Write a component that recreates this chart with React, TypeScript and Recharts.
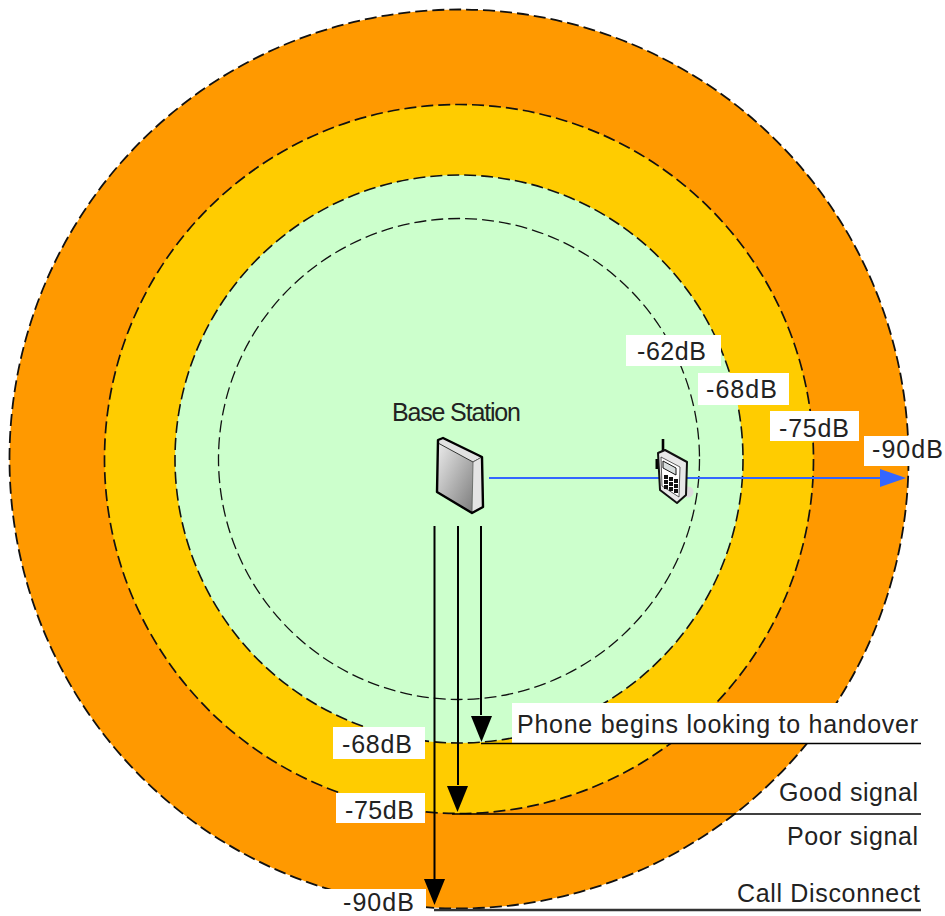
import React from "react";
import { ComposedChart, XAxis, YAxis, Scatter, Line, ReferenceArea } from "recharts";

const FONT = "'Liberation Sans', Arial, sans-serif";

// Signal zones (outermost first), drawn in the diagram's own distance units
const centre = { x: 459, y: 459 };
const zoneRadius = [449.5, 354.5, 284, 240.5];
const zoneFill = ["#FF9900", "#FFCC00", "#CCFFCC", "none"];
const zoneStrokeWidth = [1.8, 1.7, 1.6, 1.3];

// White label plates: x1, x2, y1, y2
const plates = [
  [626, 721, 335, 366],
  [698, 789, 373, 405],
  [770, 859, 411, 441],
  [864, 945, 436, 466],
  [333, 425, 727, 759],
  [336, 425, 793, 823],
  [300, 426, 889, 916],
  [512, 925, 703, 743],
];

// Level lines
const levelLines = [
  { from: 481, to: 921, y: 743.5 },
  { from: 452, to: 921, y: 814 },
  { from: 434, to: 921, y: 910 },
];
const dropLines = [
  { x: 434.5, top: 526, bottom: 880 },
  { x: 458, top: 526, bottom: 785 },
  { x: 481, top: 526, bottom: 715 },
];
const arrowTips = [
  { x: 434.5, y: 905 },
  { x: 457.5, y: 812 },
  { x: 481.5, y: 742 },
];
const signalPath = [
  { x: 489, y: 478 },
  { x: 884, y: 478 },
];
const signalTip = [{ x: 906, y: 478 }];
const stationPos = [{ x: 459, y: 476 }];
const phonePos = [{ x: 672, y: 471 }];

// Text
const labelText = [
  "Base Station", "-62dB", "-68dB", "-75dB", "-90dB", "-68dB", "-75dB", "-90dB",
  "Phone begins looking to handover", "Good signal", "Poor signal", "Call Disconnect",
];
const labelX = [392, 637, 706, 779, 872, 342, 345, 343, 517, 779, 787, 737];
const labelY = [421, 360, 398, 437, 458, 753, 819, 911, 733, 801, 845, 902];
const labelSpan = [129, 69, 71, 70, 71, 70, 69, 71, 401, 139, 131, 183];

const zones = zoneRadius.map((r, i) => ({ ...centre, r, fill: zoneFill[i], sw: zoneStrokeWidth[i] }));
const labels = labelText.map((t, i) => ({ x: labelX[i], y: labelY[i], t, span: labelSpan[i] }));

const ZoneShape = (p: any) => (
  <circle
    cx={p.cx}
    cy={p.cy}
    r={p.payload.r}
    fill={p.payload.fill}
    stroke="#111"
    strokeWidth={p.payload.sw}
    strokeDasharray="12 5"
  />
);

const TextShape = (p: any) => (
  <text
    x={p.cx}
    y={p.cy}
    fontFamily={FONT}
    fontSize={25}
    fill="#222"
    textLength={p.payload.span}
    lengthAdjust="spacing"
  >
    {p.payload.t}
  </text>
);

const DownArrow = (p: any) => (
  <path d={`M${p.cx - 10.5} ${p.cy - 26} L${p.cx + 10.5} ${p.cy - 26} L${p.cx} ${p.cy} Z`} fill="#000" />
);

const BlueArrow = (p: any) => (
  <path d={`M${p.cx - 26} ${p.cy - 9} L${p.cx} ${p.cy} L${p.cx - 26} ${p.cy + 9} Z`} fill="#3366FF" />
);

const Station = (p: any) => (
  <g transform={`translate(${p.cx} ${p.cy})`}>
    <defs>
      <linearGradient id="stationFace" x1="0" y1="0" x2="1" y2="1">
        <stop offset="0" stopColor="#ececec" />
        <stop offset="1" stopColor="#7c7c7c" />
      </linearGradient>
    </defs>
    <path d="M-21 -33 L14 -14 L13 37 L-22 16 Z" fill="url(#stationFace)" />
    <path d="M-21 -36 L-16 -38 L23 -19 L14 -14 L-21 -33 Z" fill="#e2e2e2" stroke="#333" strokeWidth={1} />
    <path d="M14 -14 L23 -19 L24 31 L13 37 Z" fill="#e4e4e4" stroke="#555" strokeWidth={0.8} />
    <path d="M-21 -36 L-16 -38 L23 -19 L24 31 L13 37 L-22 16 Z" fill="none" stroke="#000" strokeWidth={2.4} strokeLinejoin="round" />
  </g>
);

const keypad = [
  [-8, 5], [-3, 7], [2, 9],
  [-8, 10], [-3, 12], [2, 14],
  [-8, 15], [-3, 17], [2, 19],
];

const Phone = (p: any) => (
  <g transform={`translate(${p.cx} ${p.cy})`}>
    <circle cx={16} cy={21} r={5.5} fill="#dcdcdc" />
    <path d="M-9 -32 L-9 -18" stroke="#000" strokeWidth={2.6} />
    <path d="M-15 -12 L-15 -2" stroke="#000" strokeWidth={3} />
    <path d="M-14 -18 L-7 -21 L15 -9 L14 24 L5 32 L-12 19 Z" fill="#e8e8e8" stroke="#111" strokeWidth={2} strokeLinejoin="round" />
    <path d="M-11 -14 L8 -4 L7 26 L-10 15 Z" fill="#fff" stroke="#333" strokeWidth={0.8} />
    <path d="M-9 -10 L4 -3 L4 4 L-9 -3 Z" fill="#d8dede" stroke="#111" strokeWidth={1} />
    {keypad.map(([kx, ky], i) => (
      <rect key={i} x={kx} y={ky - 1} width={4} height={4} fill="#111" />
    ))}
  </g>
);

export default function App() {
  return (
    <div style={{ position: "absolute", left: 0, top: 0, width: 945, height: 916, background: "#fff" }}>
      <ComposedChart width={945} height={916} margin={{ top: 0, right: 0, bottom: 0, left: 0 }}>
        <XAxis type="number" dataKey="x" domain={[0, 945]} hide />
        <YAxis type="number" dataKey="y" domain={[0, 916]} reversed hide />
        {zones.map((z, i) => (
          <Scatter key={i} data={[z]} shape={ZoneShape} isAnimationActive={false} zIndex={10 + i} />
        ))}
        {plates.map(([x1, x2, y1, y2], i) => (
          <ReferenceArea key={i} x1={x1} x2={x2} y1={y1} y2={y2} fill="#fff" fillOpacity={1} stroke="none" zIndex={20} />
        ))}
        {levelLines.map((l, i) => (
          <Line
            key={i}
            data={[{ x: l.from, y: l.y }, { x: l.to, y: l.y }]}
            dataKey="y"
            stroke={i === 2 ? "#333" : "#000"}
            strokeWidth={i === 2 ? 2.4 : 1.7}
            dot={false}
            activeDot={false}
            isAnimationActive={false}
            zIndex={30}
          />
        ))}
        {dropLines.map((l, i) => (
          <Line
            key={i}
            data={[{ x: l.x, y: l.top }, { x: l.x, y: l.bottom }]}
            dataKey="y"
            stroke="#000"
            strokeWidth={2}
            dot={false}
            activeDot={false}
            isAnimationActive={false}
            zIndex={30}
          />
        ))}
        <Line
          data={signalPath}
          dataKey="y"
          stroke="#3366FF"
          strokeWidth={2.2}
          dot={false}
          activeDot={false}
          isAnimationActive={false}
          zIndex={31}
        />
        <Scatter data={arrowTips} shape={DownArrow} isAnimationActive={false} zIndex={40} />
        <Scatter data={signalTip} shape={BlueArrow} isAnimationActive={false} zIndex={40} />
        <Scatter data={stationPos} shape={Station} isAnimationActive={false} zIndex={40} />
        <Scatter data={phonePos} shape={Phone} isAnimationActive={false} zIndex={40} />
        <Scatter data={labels} shape={TextShape} isAnimationActive={false} zIndex={50} />
      </ComposedChart>
    </div>
  );
}
